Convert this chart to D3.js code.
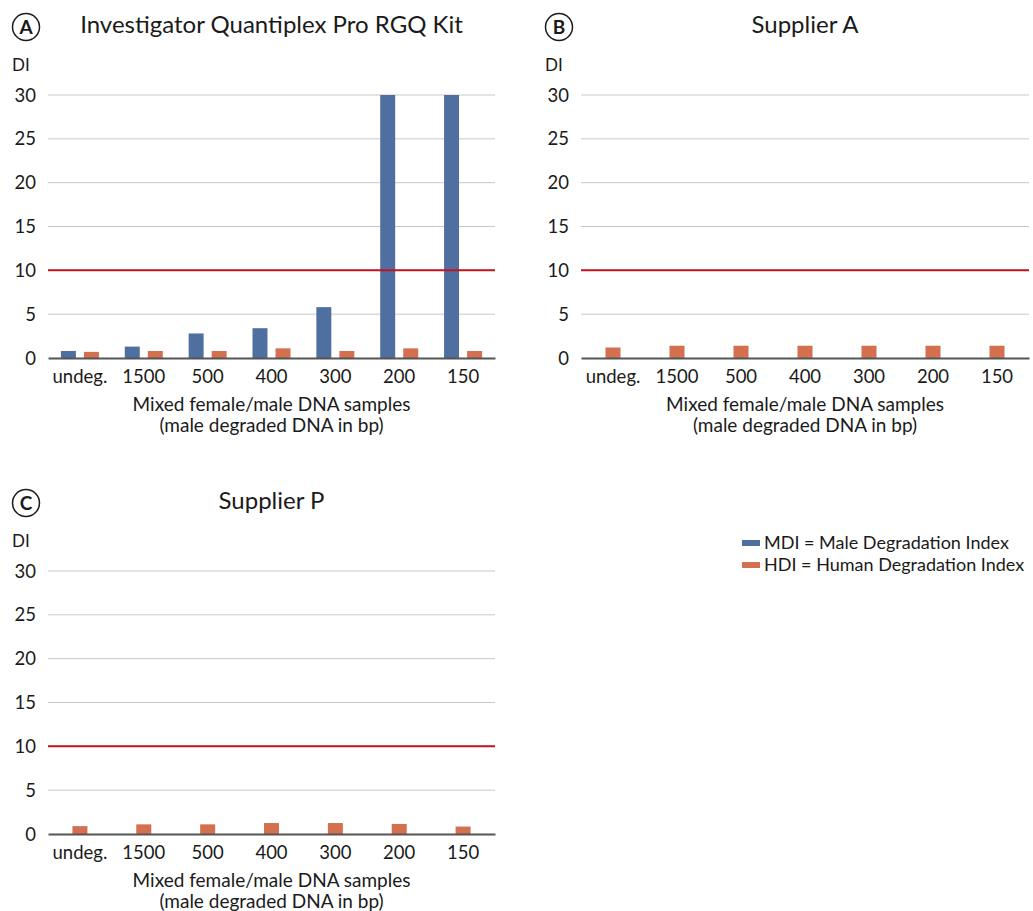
<!DOCTYPE html>
<html>
<head>
<meta charset="utf-8">
<script src="https://cdn.jsdelivr.net/npm/d3@7"></script>
<style>
  body { margin: 0; background: #fff; }
  svg { display: block; font-family: "Lato", "Open Sans", sans-serif; }
</style>
</head>
<body>
<svg id="chart" width="1033" height="911"></svg>
<script>
// categories and values
const categories = ["undeg.", "1500", "500", "400", "300", "200", "150"];
const yTicks = [0, 5, 10, 15, 20, 25, 30];
const threshold = 10;

const qiagenMDI = [0.8, 1.3, 2.8, 3.4, 5.8, 30, 30];
const qiagenHDI = [0.7, 0.8, 0.8, 1.1, 0.8, 1.1, 0.8];
const supplierAHDI = [1.2, 1.4, 1.4, 1.4, 1.4, 1.4, 1.4];
const supplierPHDI = [0.9, 1.1, 1.1, 1.25, 1.25, 1.15, 0.85];

const seriesNames = ["MDI = Male Degradation Index", "HDI = Human Degradation Index"];
const colors = ["#4f6fa0", "#d2704f"];

const panels = [
  { letter: "A", title: "Investigator Quantiplex Pro RGQ Kit", x0: 48, x1: 495, top: 95, bottom: 358,
    series: [{ key: 0, values: qiagenMDI }, { key: 1, values: qiagenHDI }] },
  { letter: "B", title: "Supplier A", x0: 581, x1: 1029, top: 95, bottom: 358,
    series: [{ key: 1, values: supplierAHDI }] },
  { letter: "C", title: "Supplier P", x0: 48, x1: 495, top: 571, bottom: 834,
    series: [{ key: 1, values: supplierPHDI }] }
];

const svg = d3.select("#chart");

panels.forEach(p => {
  const g = svg.append("g");

  const x = d3.scaleBand()
    .domain(categories)
    .range([p.x0, p.x1]);

  const y = d3.scaleLinear()
    .domain([0, 30])
    .range([p.bottom, p.top]);

  // inner band for the series of one category
  const pairWidth = p.series.length === 2 ? 38 : 15;
  const xs = d3.scaleBand()
    .domain(p.series.map(s => s.key))
    .range([-pairWidth / 2, pairWidth / 2])
    .paddingInner(p.series.length === 2 ? 0.35 : 0);

  // gridlines
  g.append("g")
    .selectAll("line")
    .data(yTicks.filter(t => t > 0))
    .enter().append("line")
    .attr("x1", p.x0).attr("x2", p.x1)
    .attr("y1", d => y(d)).attr("y2", d => y(d))
    .attr("stroke", "#c8c8c8")
    .attr("stroke-width", 1);

  // y tick labels
  g.append("g")
    .selectAll("text")
    .data(yTicks)
    .enter().append("text")
    .attr("x", p.x0 - 12)
    .attr("y", d => y(d))
    .attr("dy", "0.36em")
    .attr("text-anchor", "end")
    .attr("font-size", 18.5)
    .attr("fill", "#1a1a1a")
    .text(d => d);

  // bars
  p.series.forEach(s => {
    g.append("g")
      .attr("fill", colors[s.key])
      .selectAll("rect")
      .data(s.values.map((v, i) => ({ cat: categories[i], v })))
      .enter().append("rect")
      .attr("x", d => x(d.cat) + x.bandwidth() / 2 + xs(s.key))
      .attr("width", xs.bandwidth())
      .attr("y", d => y(d.v))
      .attr("height", d => y(0) - y(d.v));
  });

  // threshold line
  g.append("line")
    .attr("x1", p.x0).attr("x2", p.x1)
    .attr("y1", y(threshold)).attr("y2", y(threshold))
    .attr("stroke", "#c0141e")
    .attr("stroke-width", 2);

  // x axis
  const xAxis = g.append("g")
    .attr("transform", `translate(0, ${y(0)})`)
    .call(d3.axisBottom(x).tickSize(0).tickPadding(12));
  xAxis.select(".domain").attr("stroke", "#555").attr("stroke-width", 2);
  xAxis.selectAll("text")
    .attr("font-size", 18.5)
    .attr("font-family", "Lato, sans-serif")
    .attr("fill", "#1a1a1a");

  const cx = (p.x0 + p.x1) / 2;
  g.append("text")
    .attr("x", cx).attr("y", p.bottom + 53)
    .attr("text-anchor", "middle")
    .attr("font-size", 19)
    .attr("fill", "#1a1a1a")
    .text("Mixed female/male DNA samples");
  g.append("text")
    .attr("x", cx).attr("y", p.bottom + 74)
    .attr("text-anchor", "middle")
    .attr("font-size", 19)
    .attr("fill", "#1a1a1a")
    .text("(male degraded DNA in bp)");

  // DI label
  g.append("text")
    .attr("x", p.x0 - 36).attr("y", p.top - 24)
    .attr("font-size", 17)
    .attr("fill", "#1a1a1a")
    .text("DI");

  // title and circled letter
  g.append("text")
    .attr("x", cx).attr("y", p.top - 62)
    .attr("text-anchor", "middle")
    .attr("font-size", 24)
    .attr("fill", "#1a1a1a")
    .text(p.title);

  const lx = p.x0 - 22;
  g.append("circle")
    .attr("cx", lx).attr("cy", p.top - 68)
    .attr("r", 13.5)
    .attr("fill", "none")
    .attr("stroke", "#1a1a1a")
    .attr("stroke-width", 1.5);
  g.append("text")
    .attr("x", lx).attr("y", p.top - 68)
    .attr("dy", "0.36em")
    .attr("text-anchor", "middle")
    .attr("font-size", 19)
    .attr("font-weight", "bold")
    .attr("fill", "#1a1a1a")
    .text(p.letter);
});

// legend
const legend = svg.append("g")
  .attr("transform", "translate(742, 543)");
const item = legend.selectAll("g")
  .data(seriesNames)
  .enter().append("g")
  .attr("transform", (d, i) => `translate(0, ${i * 22})`);
item.append("rect")
  .attr("x", 0).attr("y", -3)
  .attr("width", 18).attr("height", 6)
  .attr("fill", (d, i) => colors[i]);
item.append("text")
  .attr("x", 22)
  .attr("dy", "0.36em")
  .attr("font-size", 18)
  .attr("fill", "#1a1a1a")
  .text(d => d);
</script>
</body>
</html>
